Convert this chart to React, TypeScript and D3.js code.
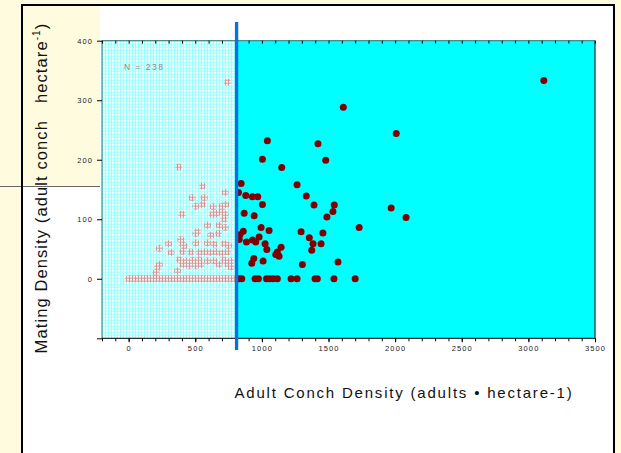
import React, { useEffect, useRef } from 'react'
import * as d3 from 'd3'

// sites at or above the density threshold (adults/ha, matings/ha)
const denseSites: [number, number][] = [
  [1611, 288], [2008, 244], [1041, 232], [1421, 227], [1004, 201], [1479, 199],
  [1149, 187], [844, 160], [1264, 158], [824, 145], [879, 140], [929, 138],
  [969, 138], [1333, 139], [1004, 125], [1391, 124], [1543, 124], [1533, 113],
  [1488, 104], [867, 110], [942, 106], [1970, 119], [2082, 103], [1730, 86],
  [994, 86], [1054, 81], [860, 80], [835, 74], [830, 66], [1294, 79], [1458, 77],
  [1356, 69], [979, 70], [884, 62], [929, 65], [954, 62], [1024, 59], [1384, 59],
  [1444, 59], [1144, 53], [1037, 49], [1116, 45], [1104, 41], [1129, 38],
  [1374, 48], [939, 34], [924, 26], [1009, 30], [1304, 24], [1571, 28], [3116, 333]
]
const denseZeroX = [829, 849, 949, 974, 1034, 1059, 1084, 1116, 1219, 1264, 1399, 1416, 1541, 1700]

// sites below the threshold (drawn under the hatch)
const sparseSites: [number, number][] = [
  [742, 330], [375, 188], [554, 156], [724, 145], [475, 136], [567, 136], [505, 122],
  [554, 125], [634, 121], [700, 122], [730, 125], [400, 108], [649, 110], [700, 113],
  [629, 108], [659, 109], [724, 108], [717, 100], [592, 90], [679, 90], [724, 86],
  [517, 79], [505, 76], [617, 73], [674, 76], [392, 66], [300, 59], [405, 58],
  [417, 55], [505, 60], [592, 60], [642, 58], [717, 59], [749, 56], [230, 51],
  [318, 44], [405, 46], [467, 45], [530, 44], [575, 45], [617, 44], [655, 45],
  [700, 43], [742, 45], [380, 32], [430, 30], [480, 31], [530, 32], [592, 30],
  [642, 30], [717, 31], [767, 30], [405, 24], [455, 22], [505, 22], [542, 24],
  [230, 24], [217, 19], [367, 13], [205, 10], [679, 24], [742, 25], [767, 20]
]
const sparseZeroX = [0, 20, 45, 70, 95, 120, 140, 165, 190, 215, 240, 260, 285, 310, 335,
  360, 380, 405, 430, 455, 480, 500, 525, 550, 575, 600, 620, 645, 670, 695, 720, 740, 765, 790]

const xTickLabels = [0, 500, 1000, 1500, 2000, 2500, 3000, 3500]
const yTickValues = [-100, 0, 100, 200, 300, 400]
const yTickLabels = [0, 100, 200, 300, 400]
const threshold = 810
const sampleSize = 238

const font = 'Liberation Sans, Arial, sans-serif'

function App() {
  const ref = useRef<SVGSVGElement>(null)

  useEffect(() => {
    const svg = d3.select(ref.current)
    svg.selectAll('*').remove()

    const x = d3.scaleLinear().domain([-200, 3500]).range([102, 595])
    const y = d3.scaleLinear().domain([-100, 400]).range([338.3, 40.7])
    const [x0, x1] = x.range()
    const [y0, y1] = y.range()

    const defs = svg.append('defs')
    const pat = defs.append('pattern')
      .attr('id', 'hatch')
      .attr('patternUnits', 'userSpaceOnUse')
      .attr('x', x0).attr('y', y1)
      .attr('width', 3).attr('height', 3)
    pat.append('rect').attr('width', 3).attr('height', 3).attr('fill', '#fff').attr('fill-opacity', 0.6)
    pat.append('rect').attr('x', 1).attr('y', 1).attr('width', 2).attr('height', 2)
      .attr('fill', '#fff').attr('fill-opacity', 0.88)

    // page + panel
    svg.append('rect').attr('width', 621).attr('height', 453).attr('fill', '#fffbdf')
    svg.append('rect').attr('x', 21).attr('y', 4).attr('width', 594).attr('height', 470).attr('fill', '#fff')
    svg.append('rect').attr('x', 0).attr('y', 0).attr('width', 100).attr('height', 186).attr('fill', '#fffbdf')
    svg.append('line').attr('x1', 0).attr('x2', 100).attr('y1', 186.5).attr('y2', 186.5)
      .attr('stroke', '#666').attr('stroke-width', 1)

    // plot area
    svg.append('rect').attr('x', x0).attr('y', y1).attr('width', x1 - x0).attr('height', y0 - y1)
      .attr('fill', '#00ffff')

    const allPoints: [number, number][] = [
      ...sparseSites,
      ...sparseZeroX.map(v => [v, 0] as [number, number]),
      ...denseSites,
      ...denseZeroX.map(v => [v, 0] as [number, number])
    ]
    svg.append('g').selectAll('circle').data(allPoints).enter().append('circle')
      .attr('cx', d => x(d[0])).attr('cy', d => y(d[1]))
      .attr('r', 3.5).attr('fill', '#800000')

    // hatch over the low-density region
    svg.append('rect').attr('x', x0).attr('y', y1)
      .attr('width', x(threshold) - x0).attr('height', y0 - y1)
      .attr('fill', 'url(#hatch)')

    svg.append('text').attr('x', 124).attr('y', 70)
      .attr('font-family', font).attr('font-size', 8.5).attr('letter-spacing', 1.5)
      .attr('fill', '#8a8a8a').text(`N = ${sampleSize}`)

    // frame lines
    svg.append('line').attr('x1', x0).attr('x2', x0).attr('y1', y1).attr('y2', y0).attr('stroke', '#2d7373')
    svg.append('line').attr('x1', x0).attr('x2', x1).attr('y1', y1).attr('y2', y1).attr('stroke', '#2d7373')
    svg.append('line').attr('x1', x1).attr('x2', x1).attr('y1', y1).attr('y2', y0).attr('stroke', '#000')
    svg.append('line').attr('x1', x0).attr('x2', x1).attr('y1', y0).attr('y2', y0).attr('stroke', '#000')

    const minor = d3.range(-200, 3501, 100)

    const styleAxis = (g: any) => {
      g.select('.domain').remove()
      g.selectAll('line').attr('stroke', '#000')
      g.selectAll('text').attr('font-family', font).attr('font-size', 7.5)
        .attr('letter-spacing', 1.1).attr('fill', '#222')
    }

    svg.append('g').attr('transform', `translate(${x0},0)`)
      .call(d3.axisLeft(y).tickValues(yTickValues).tickSize(5).tickPadding(4)
        .tickFormat((d: any) => (yTickLabels.includes(d) ? String(d) : '')))
      .call(styleAxis)

    svg.append('g').attr('transform', `translate(0,${y0})`)
      .call(d3.axisBottom(x).tickValues(minor).tickSize(3).tickFormat(() => ''))
      .call(styleAxis)
    svg.append('g').attr('transform', `translate(0,${y0})`)
      .call(d3.axisBottom(x).tickValues(xTickLabels).tickSize(4).tickPadding(3.5)
        .tickFormat((d: any) => String(d)))
      .call(styleAxis)

    svg.append('g').attr('transform', `translate(0,${y1})`)
      .call(d3.axisTop(x).tickValues(minor).tickSize(-3).tickFormat(() => ''))
      .call(styleAxis)

    // threshold line
    svg.append('line').attr('x1', x(threshold)).attr('x2', x(threshold))
      .attr('y1', 22).attr('y2', 350)
      .attr('stroke', '#0a6fe6').attr('stroke-width', 3.3)

    // titles
    svg.append('text').attr('x', 404).attr('y', 398).attr('text-anchor', 'middle')
      .attr('font-family', font).attr('font-size', 15).attr('letter-spacing', 1.8)
      .attr('fill', '#111').text('Adult Conch Density (adults \u2022 hectare-1)')

    const yt = svg.append('text').attr('transform', 'translate(47,188) rotate(-90)')
      .attr('text-anchor', 'middle').attr('font-family', font).attr('font-size', 16.5)
      .attr('letter-spacing', 1.1).attr('fill', '#111')
    yt.append('tspan').text('Mating Density (adult conch\u00a0\u00a0 hectare')
    yt.append('tspan').attr('font-size', 10).attr('dy', -7).text('-1')
    yt.append('tspan').attr('dy', 7).text(')')

    // panel border on top
    const border = svg.append('g').attr('stroke', '#000').attr('stroke-width', 2)
    border.append('line').attr('x1', 22).attr('x2', 22).attr('y1', 4).attr('y2', 453)
    border.append('line').attr('x1', 21).attr('x2', 615).attr('y1', 5).attr('y2', 5)
    border.append('line').attr('x1', 614).attr('x2', 614).attr('y1', 4).attr('y2', 453)
  }, [])

  return (
    <>
      <style>{'body{margin:0}'}</style>
      <svg ref={ref} width={621} height={453} style={{ display: 'block' }} />
    </>
  )
}

export default App
